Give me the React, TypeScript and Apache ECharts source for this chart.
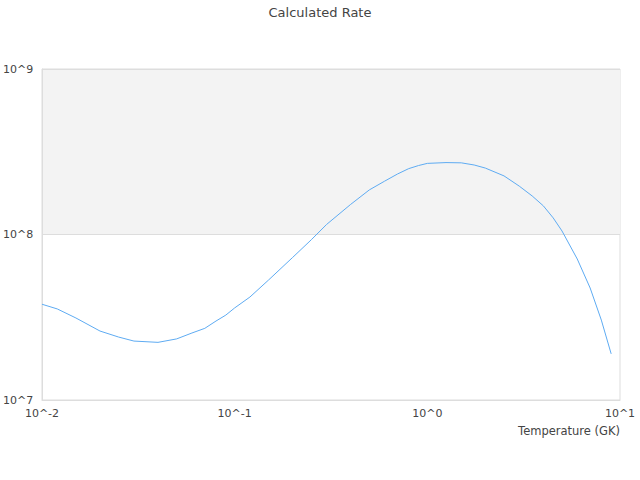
import React, { useEffect, useRef } from "react";
import * as echarts from "echarts";

const temperatures = [
  0.01, 0.012, 0.015, 0.02, 0.025, 0.03, 0.04, 0.05, 0.06, 0.07, 0.08, 0.09,
  0.1, 0.12, 0.15, 0.2, 0.25, 0.3, 0.4, 0.5, 0.6, 0.7, 0.8, 0.9, 1.0, 1.25,
  1.5, 1.75, 2.0, 2.5, 3.0, 3.5, 4.0, 4.5, 5.0, 6.0, 7.0, 8.0, 9.0,
];
const rates = [
  3.79e7, 3.55e7, 3.13e7, 2.61e7, 2.4e7, 2.27e7, 2.23e7, 2.34e7, 2.54e7,
  2.71e7, 3.0e7, 3.26e7, 3.6e7, 4.19e7, 5.31e7, 7.27e7, 9.3e7, 1.15e8,
  1.52e8, 1.86e8, 2.1e8, 2.32e8, 2.5e8, 2.61e8, 2.69e8, 2.72e8, 2.71e8,
  2.63e8, 2.52e8, 2.26e8, 1.96e8, 1.71e8, 1.49e8, 1.26e8, 1.05e8, 7.11e7,
  4.75e7, 3.04e7, 1.9e7,
];
const titleText = "Calculated Rate";
const xAxisName = "Temperature (GK)";

const fmtPow = (v: number) => "10^" + Math.round(Math.log10(v));

export default function App() {
  const ref = useRef<HTMLDivElement>(null);
  useEffect(() => {
    if (!ref.current) return;
    const chart = echarts.init(ref.current, null, { renderer: "svg" });
    const textColor = "#444";
    chart.setOption({
      animation: false,
      textStyle: { fontFamily: "DejaVu Sans" },
      title: {
        text: titleText,
        left: "center",
        top: 1,
        textStyle: { fontSize: 13, fontWeight: "normal", color: textColor },
      },
      grid: {
        left: 40,
        right: 20,
        top: 69,
        bottom: 80,
        show: true,
        borderColor: "#ddd",
        borderWidth: 1,
      },
      xAxis: {
        type: "log",
        logBase: 10,
        min: 0.01,
        max: 10,
        name: xAxisName,
        nameLocation: "end",
        nameGap: 0,
        nameTextStyle: {
          color: textColor,
          fontSize: 11.5,
          align: "right",
          verticalAlign: "top",
          padding: [25, 0, 0, 0],
        },
        axisLine: { show: true, lineStyle: { color: "#ddd" } },
        axisTick: { show: false },
        splitLine: { show: false },
        axisLabel: { color: textColor, fontSize: 11, formatter: fmtPow },
      },
      yAxis: {
        type: "log",
        logBase: 10,
        min: 1e7,
        max: 1e9,
        axisLine: { show: true, lineStyle: { color: "#ddd" } },
        axisTick: { show: false },
        splitLine: { show: true, lineStyle: { color: "#ddd" } },
        splitArea: {
          show: true,
          areaStyle: { color: ["rgba(255,255,255,0)", "#f3f3f3"] },
        },
        axisLabel: {
          color: textColor,
          fontSize: 11,
          formatter: fmtPow,
          align: "left",
          margin: 39,
        },
      },
      series: [
        {
          type: "line",
          data: temperatures.map((t, i) => [t, rates[i]]),
          showSymbol: false,
          symbol: "none",
          lineStyle: { color: "#5eabf2", width: 1 },
          itemStyle: { color: "#5eabf2" },
        },
      ],
    });
    return () => chart.dispose();
  }, []);
  return (
    <div
      ref={ref}
      style={{ position: "fixed", left: 0, top: 0, width: 640, height: 480, background: "#fff" }}
    />
  );
}
